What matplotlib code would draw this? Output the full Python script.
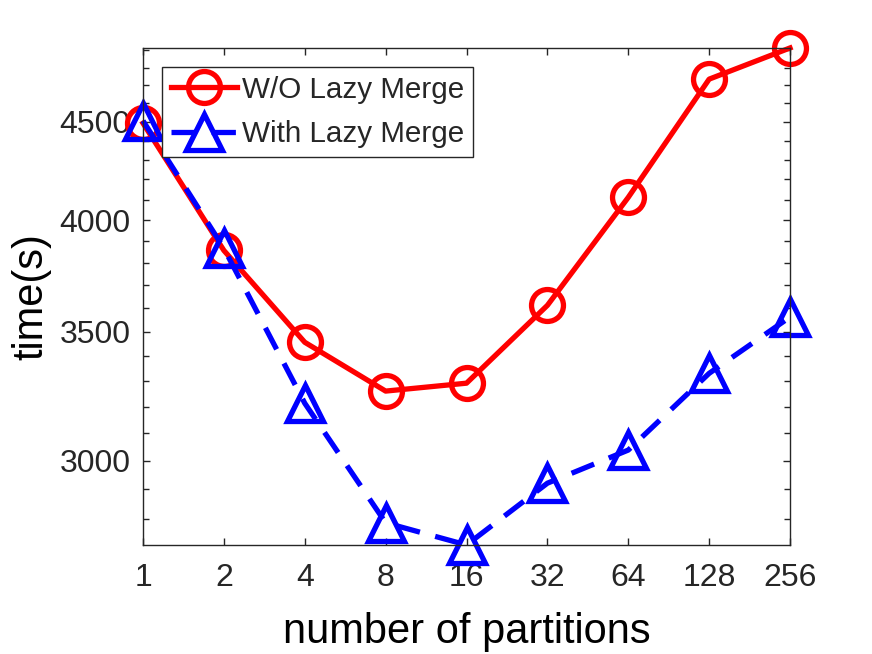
import numpy
import matplotlib

matplotlib.use("Agg")
import matplotlib.pyplot
from matplotlib.ticker import FixedLocator, NullFormatter

matplotlib.pyplot.rcParams.update({
    "font.family": ["Liberation Sans", "DejaVu Sans"],
    "axes.edgecolor": "#262626",
    "xtick.color": "#262626",
    "ytick.color": "#262626",
    "text.color": "#262626",
})

partitions = ["1", "2", "4", "8", "16", "32", "64", "128", "256"]
without_lazy = [4492, 3858, 3457, 3261, 3292, 3613, 4111, 4735, 4915]
with_lazy = [4505, 3868, 3214, 2786, 2713, 2921, 3039, 3331, 3563]
y_ticks = [3000, 3500, 4000, 4500]
y_minor = list(range(2800, 5000, 100))

fig = matplotlib.pyplot.figure(figsize=(8.72, 6.54), dpi=100)
ax = fig.add_axes([0.164, 0.1667, 0.742, 0.760])

x = numpy.arange(1, len(partitions) + 1)

ax.plot(x, without_lazy, color="#ff0000", linewidth=3.8, marker="o", markersize=23,
        markerfacecolor="none", markeredgewidth=3.8, label="W/O Lazy Merge", clip_on=False)
ax.plot(x, with_lazy, color="#0000ff", linewidth=3.8, linestyle=(0, (4.6, 3.0)), marker="^",
        markersize=26, markerfacecolor="none", markeredgewidth=3.8, label="With Lazy Merge",
        clip_on=False)

ax.set_yscale("log")
ax.set_xlim(1, len(partitions))
ax.set_ylim(min(with_lazy), max(without_lazy))

ax.set_xticks(x)
ax.set_xticklabels(partitions)
ax.yaxis.set_major_locator(FixedLocator(y_ticks))
ax.yaxis.set_minor_locator(FixedLocator([v for v in y_minor if v not in y_ticks]))
ax.yaxis.set_minor_formatter(NullFormatter())
ax.set_yticklabels([str(v) for v in y_ticks])

ax.tick_params(axis="both", which="both", direction="in", top=True, right=True,
               labelsize=23, width=1.0)
ax.tick_params(axis="both", which="major", length=5, pad=9)
ax.tick_params(axis="x", which="major", pad=13)
ax.tick_params(axis="y", which="minor", length=4)
for spine in ax.spines.values():
    spine.set_linewidth(1.0)

ax.set_xlabel("number of partitions", fontsize=30, labelpad=14)
ax.set_ylabel("time(s)", fontsize=30, labelpad=6)

leg = ax.legend(loc="upper left", bbox_to_anchor=(0.029, 0.962), fontsize=21.3, frameon=True,
                fancybox=False, edgecolor="#262626", handlelength=2.25, handletextpad=0.15,
                borderpad=0.3, labelspacing=0.55, borderaxespad=0)
leg.get_frame().set_linewidth(1.0)
leg.get_frame().set_alpha(1.0)

fig.savefig("out.png", dpi=100)
